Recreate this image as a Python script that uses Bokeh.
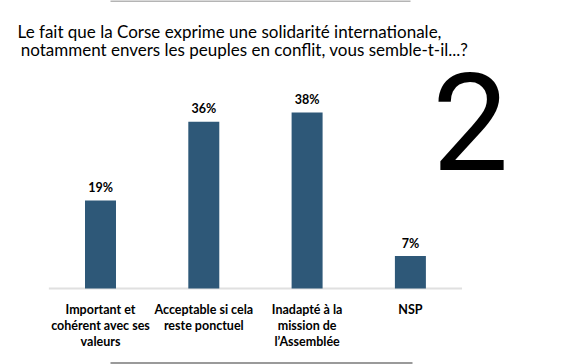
from bokeh.plotting import figure
from bokeh.models import Range1d, Label, ColumnDataSource
from bokeh.core.properties import value
from bokeh.embed import file_html
from bokeh.resources import INLINE

# ---- data ----
categories = [
    "Important et\ncohérent avec ses\nvaleurs",
    "Acceptable si cela\nreste ponctuel",
    "Inadapté à la\nmission de\nl’Assemblée",
    "NSP",
]
values = [19, 36, 38, 7]
value_labels = ["19%", "36%", "38%", "7%"]
title_lines = [
    "Le fait que la Corse exprime une solidarité internationale,",
    "notamment envers les peuples en conflit, vous semble-t-il...?",
]
slide_number = "2"

# ---- layout constants (pixels in page space) ----
W, H = 562, 364
X0, DX = 100.0, 103.3    # pixel position of first category, spacing
Y0, DY = 288.0, 4.63     # pixel position of baseline, px per percent

def dx(px):
    return (px - X0) / DX

def dy(py):
    return (Y0 - py) / DY

p = figure(width=W, height=H, output_backend="svg", toolbar_location=None,
           x_range=Range1d(dx(0), dx(W)), y_range=Range1d(dy(H), dy(0)),
           min_border=0)
p.xaxis.visible = False
p.yaxis.visible = False
p.grid.visible = False
p.outline_line_color = None
p.background_fill_color = "white"

xs = list(range(len(categories)))
src = ColumnDataSource(dict(x=xs, top=values, lab=value_labels, cat=categories))

# slide frame decorations
p.segment(x0=[dx(110)], y0=[dy(0.5)], x1=[dx(410)], y1=[dy(0.5)],
          line_color="#b4b4b4", line_width=2)
p.segment(x0=[dx(110)], y0=[dy(362.5)], x1=[dx(412)], y1=[dy(362.5)],
          line_color="#9a9a9a", line_width=2)

# baseline axis line
p.segment(x0=[-0.5], y0=[0], x1=[len(categories) - 0.5], y1=[0],
          line_color="#e0e0e0", line_width=2)

p.vbar(x="x", top="top", width=0.30, bottom=0, source=src,
       fill_color="#2e5878", line_color=None)

bar_font = value("Lato")
p.text(x="x", y="top", text="lab", source=src, text_font=bar_font,
       text_font_style="bold", text_font_size="12.5px", text_align="center",
       text_baseline="alphabetic", y_offset=-13, text_color="black")

p.text(x="x", y=0, text="cat", source=src, text_font=bar_font,
       text_font_style="bold", text_font_size="12.5px", text_align="center",
       text_baseline="top", y_offset=13, text_line_height=1.08, text_color="black")

# title
for line, cx, by in zip(title_lines, [229, 244], [31, 49]):
    p.add_layout(Label(x=dx(cx), y=dy(by), text=line, text_font="Lato",
                       text_font_size="17px", text_align="center",
                       text_baseline="alphabetic", text_color="black"))

p.text(x=[dx(470)], y=[dy(121)], text=[slide_number],
       text_font=value("Roboto"), text_font_size="136px",
       text_align="center", text_baseline="alphabetic", text_color="black")

open("out.html", "w").write(file_html(p, INLINE))
